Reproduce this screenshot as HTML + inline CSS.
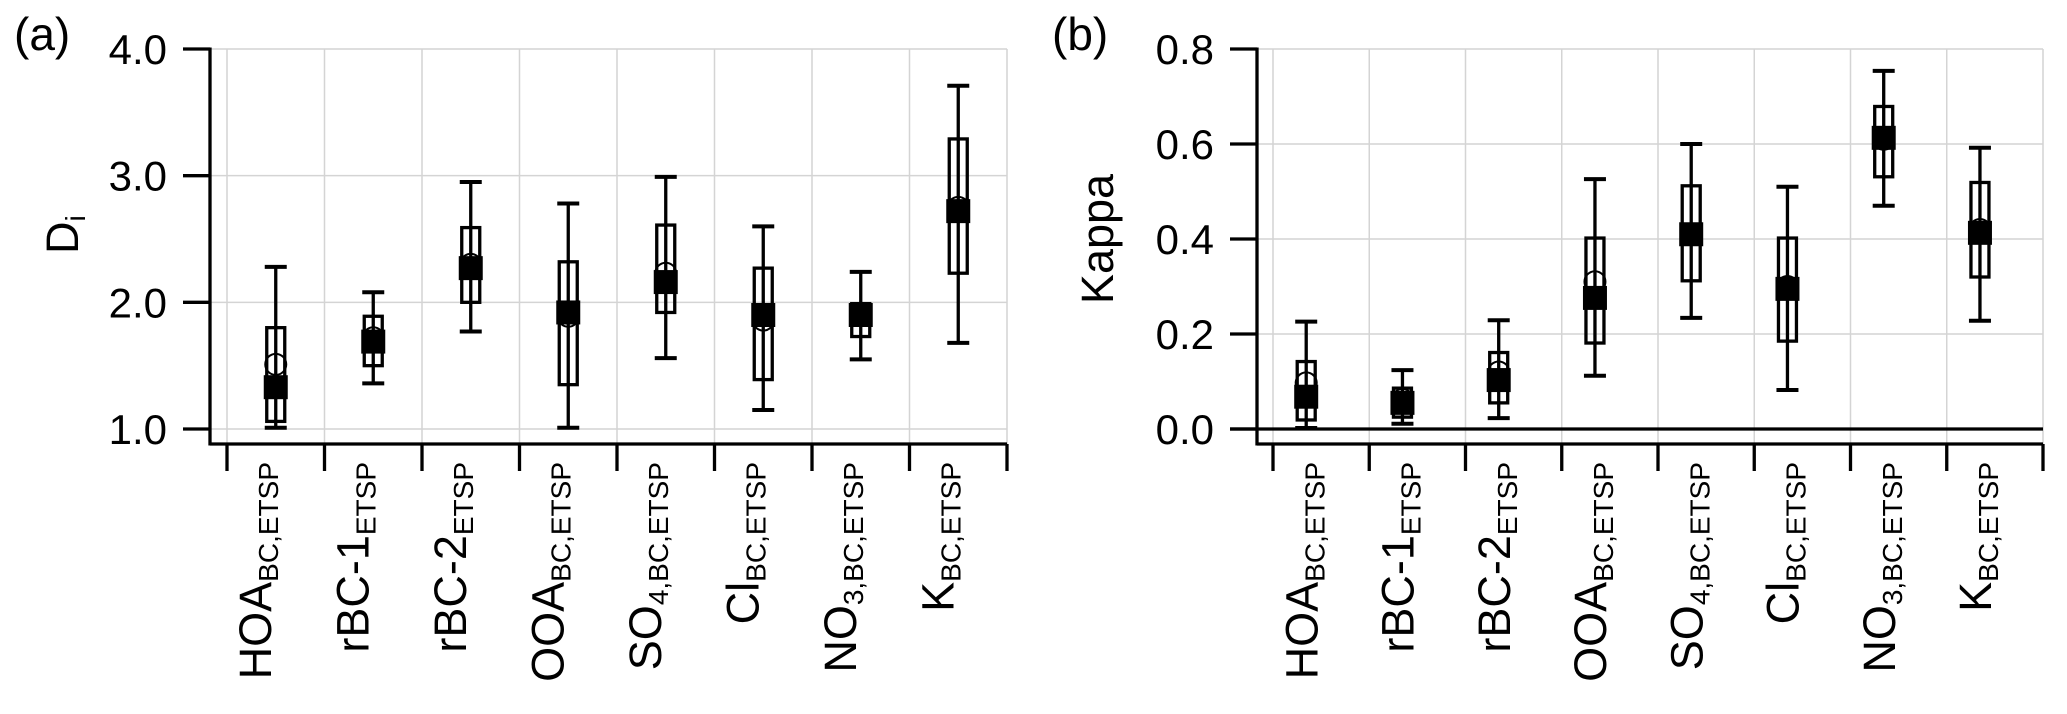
<!DOCTYPE html>
<html><head><meta charset="utf-8"><style>
html,body{margin:0;padding:0;background:#fff;}
svg{display:block;font-family:"Liberation Sans",Arial,sans-serif;}
</style></head><body>
<svg id="fig" width="2067" height="714" viewBox="0 0 2067 714" xmlns="http://www.w3.org/2000/svg">
<g id="pa"></g>
<g id="pb"></g>
</svg>
<script>
// Category labels: [main, subscript]
const catMain = ["HOA","rBC-1","rBC-2","OOA","SO","Cl","NO","K"];
const catSub = ["BC,ETSP","ETSP","ETSP","BC,ETSP","4,BC,ETSP","BC,ETSP","3,BC,ETSP","BC,ETSP"];
const catNames = ["hoa","rbc-1","rbc-2","ooa","so4","cl","no3","k"];

// Panel (a) Di
const diLow = [1.01,1.36,1.77,1.01,1.56,1.15,1.55,1.68];
const diQ1 = [1.06,1.50,2.00,1.35,1.92,1.39,1.73,2.23];
const diMed = [1.33,1.69,2.27,1.92,2.16,1.90,1.90,2.72];
const diMean = [1.51,1.72,2.30,1.89,2.23,1.86,1.90,2.75];
const diQ3 = [1.80,1.89,2.59,2.32,2.61,2.27,1.99,3.29];
const diHigh = [2.28,2.08,2.95,2.78,2.99,2.60,2.24,3.71];
const diTicks = [1.0,2.0,3.0,4.0];
const diTickLabels = ["1.0","2.0","3.0","4.0"];

// Panel (b) Kappa
const kLow = [0.002,0.011,0.023,0.112,0.234,0.082,0.470,0.228];
const kQ1 = [0.019,0.025,0.055,0.181,0.312,0.185,0.531,0.320];
const kMed = [0.068,0.055,0.103,0.276,0.410,0.295,0.613,0.413];
const kMean = [0.097,0.062,0.120,0.310,0.410,0.300,0.610,0.420];
const kQ3 = [0.142,0.086,0.161,0.402,0.512,0.402,0.679,0.519];
const kHigh = [0.226,0.124,0.229,0.526,0.600,0.510,0.754,0.592];
const kTicks = [0.0,0.2,0.4,0.6,0.8];
const kTickLabels = ["0.0","0.2","0.4","0.6","0.8"];

const NS="http://www.w3.org/2000/svg";
function mk(parent,tag,attrs){const e=document.createElementNS(NS,tag);for(const k in attrs)e.setAttribute(k,attrs[k]);parent.appendChild(e);return e;}

function panel(g,cfg){
  const {axX,gx0,gw,top,bot,yMin,yMax,yBot,markOff,labOff,ticks,tickLabels,low,q1,med,mean,q3,high,prefix}=cfg;
  const y=v=>bot-(v-yMin)/(yMax-yMin)*(bot-top);
  const right=gx0+8*gw;
  // grid
  for(let k=0;k<=8;k++){
    const l=mk(g,'line',{x1:gx0+k*gw,x2:gx0+k*gw,y1:top,y2:yBot,stroke:'#d4d4d4','stroke-width':1.5});
    
    
  }
  ticks.forEach((t,i)=>{
    const l=mk(g,'line',{x1:axX,x2:right,y1:y(t),y2:y(t),stroke:'#d4d4d4','stroke-width':1.5});
    
    
    const tk=mk(g,'line',{x1:axX-27,x2:axX,y1:y(t),y2:y(t),stroke:'#000','stroke-width':3.3});
    
    
    const tx=mk(g,'text',{x:axX-43,y:y(t)+15,'font-size':42,'text-anchor':'end',fill:'#000'});
    tx.textContent=tickLabels[i];
    
    
  });
  // axes
  const ya=mk(g,'line',{x1:axX,x2:axX,y1:top-1.5,y2:yBot+1.5,stroke:'#000','stroke-width':3.3});
  
  
  const xa=mk(g,'line',{x1:axX,x2:right,y1:yBot,y2:yBot,stroke:'#000','stroke-width':3.3});
  
  
  if(cfg.zeroLine){
    const z=mk(g,'line',{x1:axX-27,x2:right,y1:y(0),y2:y(0),stroke:'#000','stroke-width':3.3});
    
    
  }
  for(let k=0;k<=8;k++){
    const l=mk(g,'line',{x1:gx0+k*gw,x2:gx0+k*gw,y1:yBot,y2:yBot+27,stroke:'#000','stroke-width':3.3});
    
    
  }
  for(let i=0;i<8;i++){
    const cx=gx0+gw*(i+markOff);
    const bg=mk(g,'g',{});
    
    
    mk(bg,'line',{x1:cx,x2:cx,y1:y(low[i]),y2:y(high[i]),stroke:'#000','stroke-width':3.3});
    mk(bg,'line',{x1:cx-11,x2:cx+11,y1:y(low[i]),y2:y(low[i]),stroke:'#000','stroke-width':4});
    mk(bg,'line',{x1:cx-11,x2:cx+11,y1:y(high[i]),y2:y(high[i]),stroke:'#000','stroke-width':4});
    mk(bg,'rect',{x:cx-9,y:y(q3[i]),width:18,height:y(q1[i])-y(q3[i]),fill:'none',stroke:'#000','stroke-width':3.3});
    mk(bg,'circle',{cx:cx,cy:y(mean[i]),r:10.5,fill:'none',stroke:'#000','stroke-width':2});
    mk(bg,'rect',{x:cx-12,y:y(med[i])-12,width:24,height:24,fill:'#000'});
    const lx=gx0+gw*(i+labOff);
    const t=mk(g,'text',{transform:`translate(${lx},462) rotate(-90)`,'font-size':45,'text-anchor':'end',fill:'#000'});
    
    
    const ts1=mk(t,'tspan',{});ts1.textContent=catMain[i];
    const ts2=mk(t,'tspan',{'font-size':28,dy:7});ts2.textContent=catSub[i];
  }
}

const pa=document.getElementById('pa');
panel(pa,{axX:210,gx0:227,gw:97.5,top:49,bot:429,yMin:1,yMax:4,yBot:444,markOff:0.5,labOff:0.45,
  ticks:diTicks,tickLabels:diTickLabels,low:diLow,q1:diQ1,med:diMed,mean:diMean,q3:diQ3,high:diHigh,prefix:'panel-a'});
const pb=document.getElementById('pb');
panel(pb,{axX:1257,gx0:1273,gw:96.25,top:49,bot:429,yMin:0,yMax:0.8,yBot:444,markOff:0.345,labOff:0.46,zeroLine:true,
  ticks:kTicks,tickLabels:kTickLabels,low:kLow,q1:kQ1,med:kMed,mean:kMean,q3:kQ3,high:kHigh,prefix:'panel-b'});

// titles
let t=mk(pa,'text',{x:14,y:50,'font-size':46,fill:'#000'});t.textContent='(a)';


t=mk(pb,'text',{x:1052,y:50,'font-size':46,fill:'#000'});t.textContent='(b)';


t=mk(pa,'text',{transform:'translate(78,254) rotate(-90)','font-size':45,fill:'#000'});


mk(t,'tspan',{}).textContent='D';
mk(t,'tspan',{'font-size':28,dy:7}).textContent='i';
t=mk(pb,'text',{transform:'translate(1113,239) rotate(-90)','font-size':45,'text-anchor':'middle',fill:'#000'});
t.textContent='Kappa';


</script>
</body></html>
